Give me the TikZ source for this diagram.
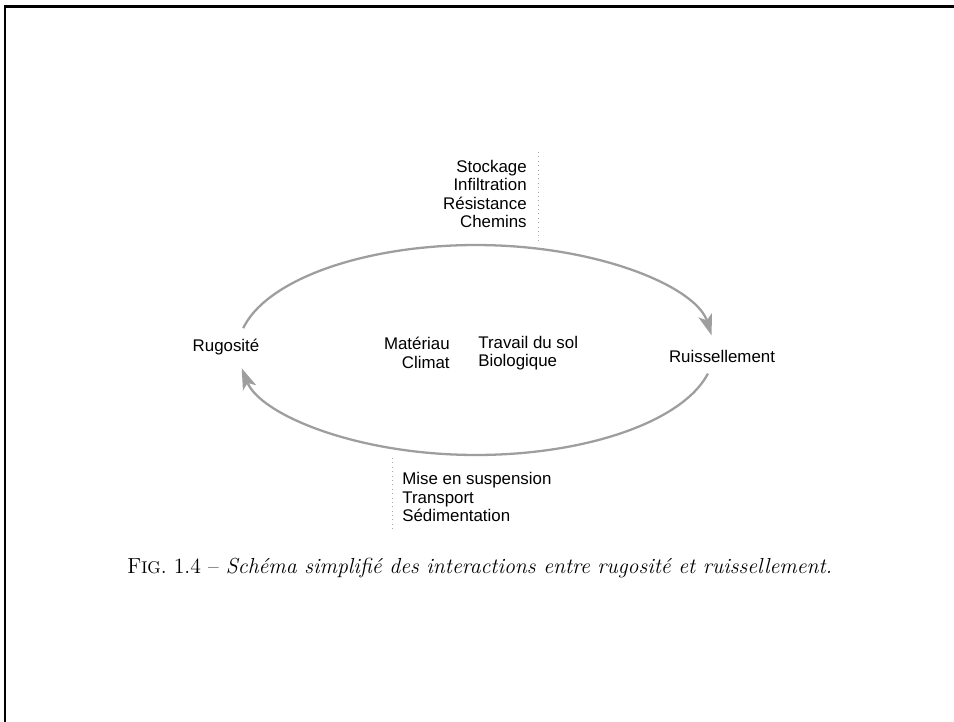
\documentclass[tikz,border=0pt]{standalone}
\usepackage{fontspec}
\newfontfamily\arial{Liberation Sans}
\usetikzlibrary{arrows.meta}
\definecolor{arcgray}{gray}{0.62}
\tikzset{
  lbl/.style={font=\arial\fontsize{9.6}{10.6}\selectfont, inner sep=0pt},
  cyc/.style={draw=arcgray, line width=1.3pt, -{Stealth[length=12pt,width=8pt,inset=3pt]}},
  sep/.style={draw=gray!70, line width=0.5pt, dotted},
  frame/.style={line width=0.06cm}
}
\begin{document}
\begin{tikzpicture}[x=0.02cm,y=-0.02cm]
\useasboundingbox (0,0) rectangle (954,722);
% frame
\draw[frame] (5,722) -- (5,7) -- (954,7);
% main nodes
\node[lbl] (rug) at (226,347) {Rugosité};
\node[lbl] (ruis) at (722,356) {Ruissellement};
% labels
\node[lbl, anchor=east, align=right] (top) at (527,194) {Stockage\\Infiltration\\Résistance\\Chemins};
\node[lbl, anchor=east, align=right] (midl) at (450,353) {Matériau\\Climat};
\node[lbl, anchor=west, align=left] (midr) at (478,353) {Travail du sol\\Biologique};
\node[lbl, anchor=west, align=left] (bot) at (402,497) {Mise en suspension\\Transport\\Sédimentation};
% dotted separators
\coordinate (d1a) at (538,152);
\coordinate (d1b) at (538,240);
\coordinate (d2a) at (392,458);
\coordinate (d2b) at (392,530);
\draw[sep] (d1a) -- (d1b);
\draw[sep] (d2a) -- (d2b);
% cycle arcs
\coordinate (ua) at (243.2,328.2);
\coordinate (la) at (707.9,373.6);
\draw[cyc] (ua) arc[start angle=168, end angle=8, x radius=4.76cm, y radius=2.1cm];
\draw[cyc] (la) arc[start angle=-13, end angle=-170, x radius=4.76cm, y radius=2.1cm];
% caption
\node[anchor=base west, inner sep=0pt, font=\fontsize{12.4}{15}\selectfont] (cap) at (127,574)
  {F{\fontsize{9.7}{12}\selectfont IG}. 1.4 -- \textit{Schéma simplifié des interactions entre rugosité et ruissellement.}};
\end{tikzpicture}
\end{document}
